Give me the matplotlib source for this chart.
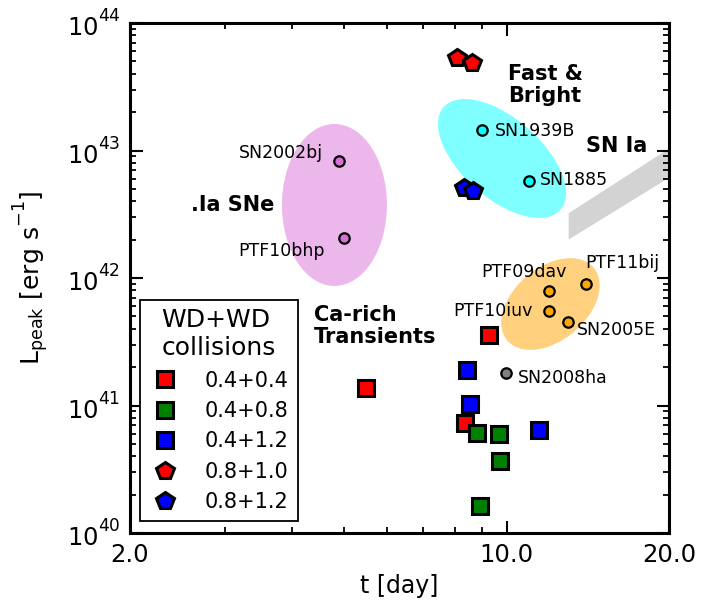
import numpy as np
import matplotlib
matplotlib.use("Agg")
import matplotlib.pyplot as plt
from matplotlib.patches import Ellipse
from matplotlib.transforms import ScaledTranslation
from matplotlib.ticker import FixedLocator, FixedFormatter, LogLocator, NullFormatter

# raise superscripts a little (old-style mathtext look)
try:
    import matplotlib._mathtext as _mt
    _mt.DejaVuSansFontConstants.sup1 = 0.95
except Exception:
    pass

# ---------------- data ----------------
# simulated WD+WD collisions: (t [day], L_peak [erg/s])
t_04_04 = [5.48, 9.27, 8.37]
L_04_04 = [1.37e41, 3.57e41, 7.3e40]
t_04_08 = [8.81, 9.67, 9.72, 8.92]
L_04_08 = [6.1e40, 6.0e40, 3.7e40, 1.63e40]
t_04_12 = [8.44, 8.55, 11.48]
L_04_12 = [1.9e41, 1.03e41, 6.4e40]
t_08_10 = [8.09, 8.62]
L_08_10 = [5.3e43, 4.85e43]
t_08_12 = [8.33, 8.66]
L_08_12 = [5.08e42, 4.8e42]

# observed transients
ia_names = ["SN2002bj", "PTF10bhp"]
ia_t = [4.88, 4.99]
ia_L = [8.3e42, 2.06e42]

fb_names = ["SN1939B", "SN1885"]
fb_t = [9.0, 11.0]
fb_L = [1.45e43, 5.8e42]

ca_names = ["PTF09dav", "PTF11bij", "PTF10iuv", "SN2005E"]
ca_t = [11.98, 14.0, 11.98, 12.99]
ca_L = [7.9e41, 9.0e41, 5.5e41, 4.5e41]

ha_names = ["SN2008ha"]
ha_t = [9.97]
ha_L = [1.8e41]

# SN Ia band (t, lower, upper)
snia_t = [13.0, 20.0]
snia_lo = [2.02e42, 6.2e42]
snia_hi = [3.25e42, 1.05e43]

xtick_vals = [2, 10, 20]
xtick_labels = ["2.0", "10.0", "20.0"]

# ---------------- figure ----------------
fig = plt.figure(figsize=(7.06, 6.03), dpi=100)
ax = fig.add_axes([130/706, 1-533/603, 539/706, 510/603])
ax.set_xscale("log")
ax.set_yscale("log")
ax.set_xlim(2, 20)
ax.set_ylim(1e40, 1e44)

def region(xc, yc, w_in, h_in, ang, color):
    tr = fig.dpi_scale_trans + ScaledTranslation(xc, yc, ax.transData)
    e = Ellipse((0, 0), w_in, h_in, angle=ang, transform=tr,
                facecolor=color, alpha=0.5, edgecolor="none", zorder=1)
    ax.add_patch(e)

region(4.79, 3.74e42, 1.05, 1.62, 0, "orchid")
region(9.80, 8.65e42, 1.556, 0.796, -41.4, "cyan")
region(12.05, 6.25e41, 1.13, 0.73, 40, "orange")

ax.fill_between(snia_t, snia_lo, snia_hi, color="lightgray", lw=0, zorder=1)

circ = dict(ls="none", marker="o", ms=7.5, mew=1.6, mec="black", zorder=3)
ax.plot(ia_t, ia_L, mfc="orchid", **circ)
ax.plot(fb_t, fb_L, mfc="cyan", **circ)
ax.plot(ca_t, ca_L, mfc="orange", **circ)
ax.plot(ha_t, ha_L, mfc="gray", **circ)

sq = dict(ls="none", marker="s", ms=11, mew=2.2, mec="black", zorder=4)
pe = dict(ls="none", marker="p", ms=13, mew=2.2, mec="black", zorder=4)
ax.plot(t_04_04, L_04_04, mfc="red", label="0.4+0.4", **sq)
ax.plot(t_04_08, L_04_08, mfc="green", label="0.4+0.8", **sq)
ax.plot(t_04_12, L_04_12, mfc="blue", label="0.4+1.2", **sq)
ax.plot(t_08_10, L_08_10, mfc="red", label="0.8+1.0", **pe)
ax.plot(t_08_12, L_08_12, mfc="blue", label="0.8+1.2", **pe)

# labels of observed objects
fs_lab = 12.5
def lab(name, x, y, dx, dy, ha):
    ax.annotate(name, (x, y), xytext=(dx, dy), textcoords="offset pixels",
                ha=ha, va="center", fontsize=fs_lab, zorder=5)

lab(ia_names[0], ia_t[0], ia_L[0], -16, 8, "right")
lab(ia_names[1], ia_t[1], ia_L[1], -19, -13, "right")
lab(fb_names[0], fb_t[0], fb_L[0], 13, -1, "left")
lab(fb_names[1], fb_t[1], fb_L[1], 11, 1, "left")
lab(ca_names[0], ca_t[0], ca_L[0], 18, 19, "right")
lab(ca_names[1], ca_t[1], ca_L[1], 0, 21, "left")
lab(ca_names[2], ca_t[2], ca_L[2], -16, 0, "right")
lab(ca_names[3], ca_t[3], ca_L[3], 9, -8, "left")
lab(ha_names[0], ha_t[0], ha_L[0], 12, -5, "left")

bold = dict(fontsize=15, fontweight="bold", transform=ax.transAxes, va="center", ha="left")
ax.text((508-130)/539, (533-85)/510, "Fast &\nBright", linespacing=1.1, **bold)
ax.text((586-130)/539, (533-146)/510, "SN Ia", **bold)
ax.text((191-130)/539, (533-205)/510, ".Ia SNe", **bold)
ax.text((314-130)/539, (533-326)/510, "Ca-rich\nTransients", linespacing=1.15, **bold)

# ticks
ax.xaxis.set_major_locator(FixedLocator(xtick_vals))
ax.xaxis.set_major_formatter(FixedFormatter(xtick_labels))
ax.xaxis.set_minor_locator(FixedLocator([3, 4, 5, 6, 7, 8, 9]))
ax.xaxis.set_minor_formatter(NullFormatter())
ax.yaxis.set_major_locator(LogLocator(base=10, numticks=10))
ax.yaxis.set_minor_locator(LogLocator(base=10, subs=np.arange(2, 10), numticks=20))
ax.yaxis.set_minor_formatter(NullFormatter())
ax.tick_params(which="both", direction="in", top=True, right=True, labelsize=17.5)
ax.tick_params(which="major", length=9, width=1.5, pad=7)
ax.tick_params(which="minor", length=4.5, width=1.3)
for s in ax.spines.values():
    s.set_linewidth(2.2)

ax.set_xlabel("t [day]", fontsize=17, labelpad=5)
ax.set_ylabel(r"$\mathregular{L_{peak}\ [erg\ s^{-1}]}$", fontsize=18, labelpad=11)

leg = ax.legend(loc="lower left", bbox_to_anchor=((140-130)/539, (533-521)/510),
                borderaxespad=0, title="WD+WD\ncollisions", title_fontsize=18,
                fontsize=15, frameon=True, fancybox=False, framealpha=1,
                edgecolor="black", handletextpad=1.1, labelspacing=0.5,
                numpoints=1, borderpad=0.42, handlelength=1.6)
leg.get_frame().set_linewidth(1.3)
leg.set_zorder(6)

fig.savefig("out.png", dpi=100)
